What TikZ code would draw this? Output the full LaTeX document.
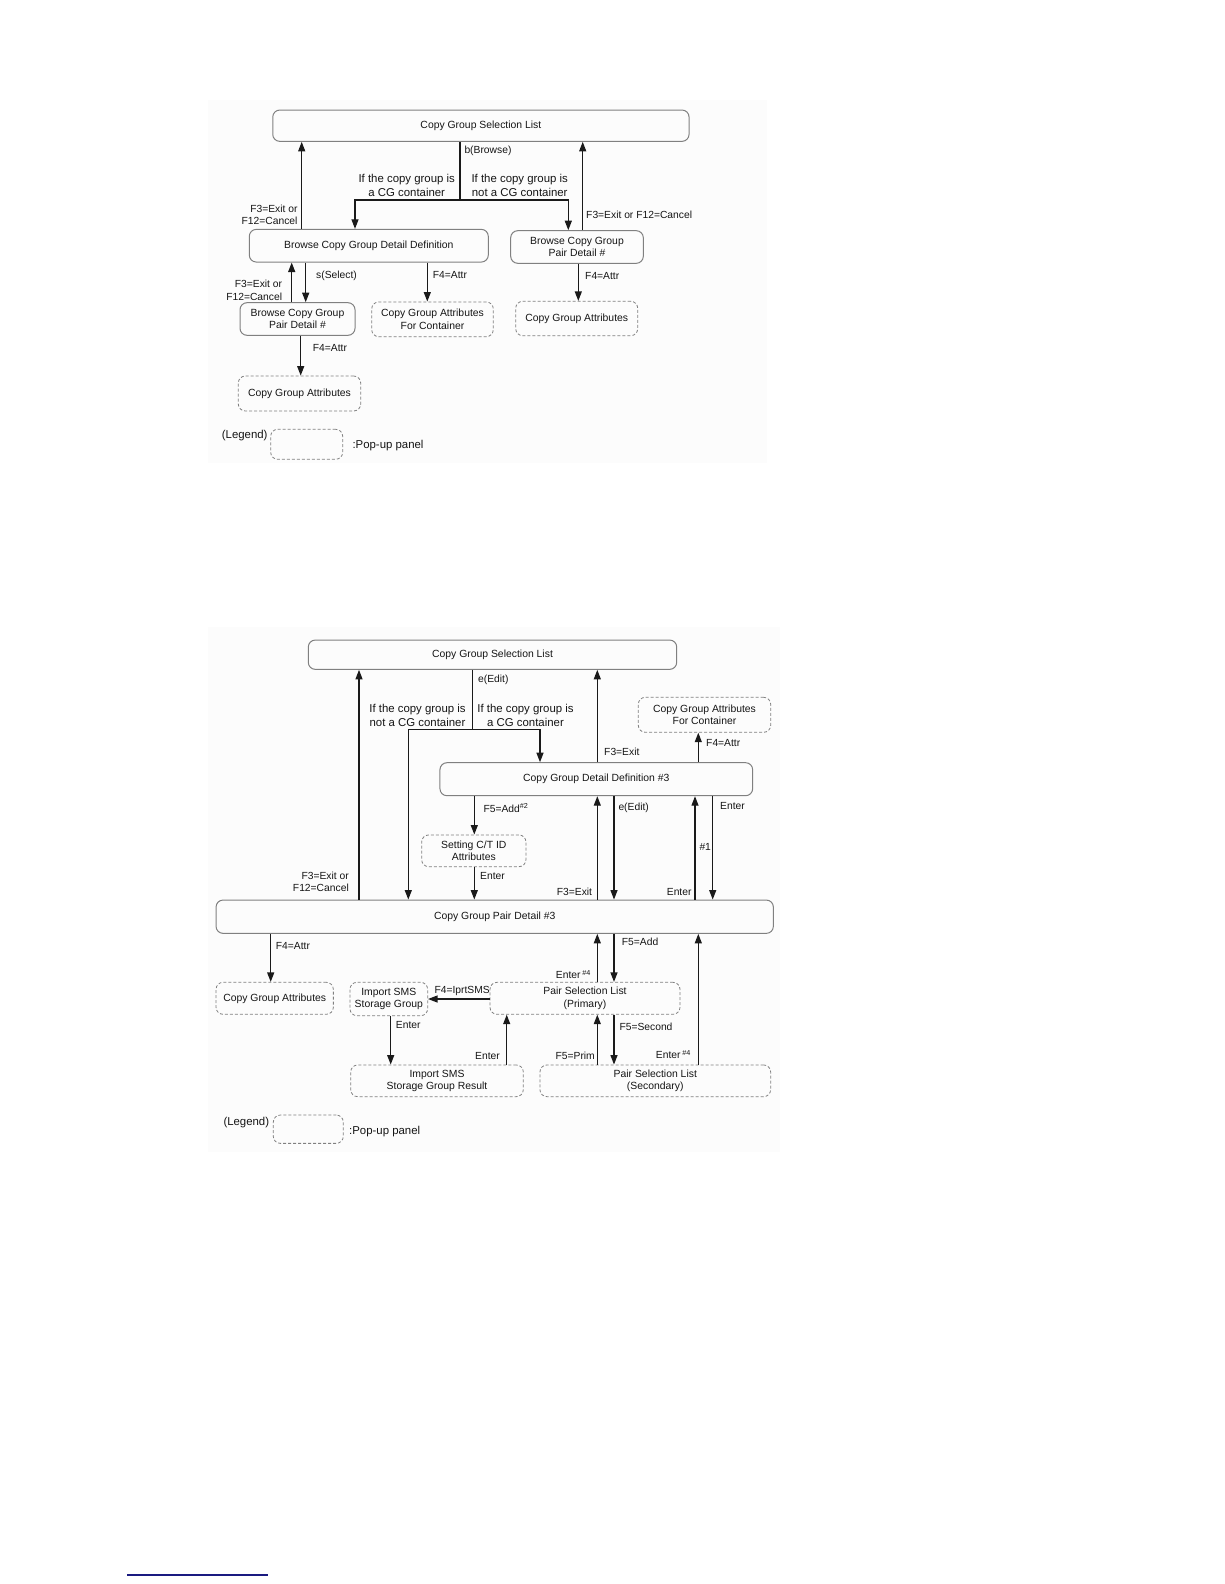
\documentclass[tikz,border=0pt]{standalone}
\usepackage{fontspec}
\setmainfont{Liberation Sans}
\usetikzlibrary{arrows.meta}
\definecolor{boxgray}{HTML}{808080}
\definecolor{arrcol}{HTML}{1A1A1A}
\definecolor{txt}{HTML}{151515}
\definecolor{bgfaint}{HTML}{FCFCFC}
\definecolor{navy}{HTML}{1A1A80}
\newcommand\bxfont{\fontsize{10.4}{12.7}\selectfont}
\newcommand\lbfont{\fontsize{10.3}{12.6}\selectfont}
\newcommand\bigfont{\fontsize{11.4}{13.7}\selectfont}
\begin{document}
\begin{tikzpicture}[x=1pt,y=-1pt,
  box/.style={draw=boxgray, line width=1pt, rounded corners=7pt, inner sep=0pt,
              align=center, font=\bxfont, text=txt},
  pop/.style={box, dash pattern=on 3pt off 2pt, line width=0.8pt},
  arr/.style={draw=arrcol, line width=1.2pt, -{Triangle[length=9.5pt,width=7pt]}},
  ln/.style={draw=arrcol, line width=1.2pt},
  lbl/.style={inner sep=0pt, font=\lbfont, text=txt},
  biglbl/.style={inner sep=0pt, font=\bigfont, text=txt, align=center}
]
\useasboundingbox (0,0) rectangle (1224,1584);
\fill[white] (0,0) rectangle (1224,1584);
\fill[bgfaint] (208,100) rectangle (767,463);
\fill[bgfaint] (208,627) rectangle (780,1152);

% ================= Diagram 1 =================
\node[box, minimum width=416.3pt, minimum height=31.3pt] (top1) at (480.9,125.7) {Copy Group Selection List};
\node[box, minimum width=239pt, minimum height=32.7pt] (bcgdd) at (368.8,245.7) {Browse Copy Group Detail Definition};
\node[box, minimum width=132.6pt, minimum height=32.6pt] (bcgpdR) at (577,247) {Browse Copy Group\\Pair Detail \#};
\node[box, minimum width=115pt, minimum height=32.6pt] (bcgpdL) at (297.5,319) {Browse Copy Group\\Pair Detail \#};
\node[pop, minimum width=121.6pt, minimum height=34.7pt] (cgafc1) at (432.5,319.3) {Copy Group Attributes\\For Container};
\node[pop, minimum width=122pt, minimum height=34.4pt] (cgaR) at (576.7,318.5) {Copy Group Attributes};
\node[pop, minimum width=122.4pt, minimum height=35pt] (cgaL) at (299.5,393.5) {Copy Group Attributes};
\node[pop, minimum width=72pt, minimum height=30pt] (leg1) at (306.7,444.3) {};

\coordinate (sp1) at (460,200);
\coordinate (a1) at (301.7,0);
\coordinate (a2) at (582.7,0);
\coordinate (a3) at (355,0);
\coordinate (a4) at (568.3,0);
\coordinate (a6) at (291.7,0);
\coordinate (a7) at (305.7,0);
\coordinate (a8) at (427.3,0);
\coordinate (a9) at (578.3,0);
\coordinate (a10) at (300.7,0);

\draw[ln] (top1.south -| sp1) -- (sp1);
\draw[arr] (sp1) -| (bcgdd.north -| a3);
\draw[arr] (sp1) -| (bcgpdR.north -| a4);
\draw[arr] (bcgdd.north -| a1) -- (top1.south -| a1);
\draw[arr] (bcgpdR.north -| a2) -- (top1.south -| a2);
\draw[arr] (bcgpdL.north -| a6) -- (bcgdd.south -| a6);
\draw[arr] (bcgdd.south -| a7) -- (bcgpdL.north -| a7);
\draw[arr] (bcgdd.south -| a8) -- (cgafc1.north -| a8);
\draw[arr] (bcgpdR.south -| a9) -- (cgaR.north -| a9);
\draw[arr] (bcgpdL.south -| a10) -- (cgaL.north -| a10);

\node[lbl, anchor=west] (l1) at (464.3,150.7) {b(Browse)};
\node[biglbl] (l2) at (406.7,185.2) {If the copy group is\\a CG container};
\node[biglbl] (l3) at (519.7,185.2) {If the copy group is\\not a CG container};
\node[lbl, anchor=east, align=right] (l4) at (297.7,215) {F3=Exit or\\F12=Cancel};
\node[lbl, anchor=west] (l5) at (586,215) {F3=Exit or F12=Cancel};
\node[lbl, anchor=west] (l6) at (316,275.7) {s(Select)};
\node[lbl, anchor=east, align=right] (l7) at (282.3,290.3) {F3=Exit or\\F12=Cancel};
\node[lbl, anchor=west] (l8) at (432.7,274.7) {F4=Attr};
\node[lbl, anchor=west] (l9) at (585,275.7) {F4=Attr};
\node[lbl, anchor=west] (l10) at (312.7,347.7) {F4=Attr};
\node[biglbl, anchor=west] (l11) at (221.7,436) {(Legend)};
\node[biglbl, anchor=west] (l12) at (352.3,445.7) {:Pop-up panel};

% ================= Diagram 2 =================
\node[box, minimum width=368.4pt, minimum height=29.3pt] (top2) at (492.5,654.7) {Copy Group Selection List};
\node[box, minimum width=312.7pt, minimum height=33pt] (cgdd) at (596.3,779.2) {Copy Group Detail Definition \#3};
\node[pop, minimum width=132.4pt, minimum height=35pt] (cgafc2) at (704.5,714.8) {Copy Group Attributes\\For Container};
\node[pop, minimum width=104.3pt, minimum height=31.7pt] (setting) at (473.8,850.8) {Setting C/T ID\\Attributes};
\node[box, minimum width=557.3pt, minimum height=33.3pt] (cgpd) at (494.7,916.7) {Copy Group Pair Detail \#3};
\node[pop, minimum width=117.3pt, minimum height=32pt] (cga2) at (274.7,998.3) {Copy Group Attributes};
\node[pop, minimum width=77.7pt, minimum height=33.4pt] (impsg) at (388.8,999) {Import SMS\\Storage Group};
\node[pop, minimum width=190pt, minimum height=32pt] (prim) at (585,998.3) {Pair Selection List\\(Primary)};
\node[pop, minimum width=172.6pt, minimum height=31.7pt] (impres) at (437,1080.8) {Import SMS\\Storage Group Result};
\node[pop, minimum width=230.7pt, minimum height=31.7pt] (second) at (655.3,1080.8) {Pair Selection List\\(Secondary)};
\node[pop, minimum width=70pt, minimum height=28.3pt] (leg2) at (308.3,1129.2) {};

\coordinate (sp2) at (472.7,729.3);
\coordinate (b1) at (359,0);
\coordinate (b3) at (408.3,0);
\coordinate (b4) at (540,0);
\coordinate (b5) at (597.3,0);
\coordinate (b6) at (698.3,0);
\coordinate (b7) at (474.3,0);
\coordinate (b8) at (614,0);
\coordinate (b9) at (695,0);
\coordinate (b10) at (712.7,0);
\coordinate (b11) at (270.7,0);
\coordinate (b12) at (390.7,0);
\coordinate (b13) at (506.7,0);
\coordinate (r1) at (0,999);

\draw[arr] (cgpd.north -| b1) -- (top2.south -| b1);
\draw[ln] (top2.south -| sp2) -- (sp2);
\draw[arr] (sp2) -| (cgpd.north -| b3);
\draw[arr] (sp2) -| (cgdd.north -| b4);
\draw[arr] (cgdd.north -| b5) -- (top2.south -| b5);
\draw[arr] (cgdd.north -| b6) -- (cgafc2.south -| b6);
\draw[arr] (cgdd.south -| b7) -- (setting.north -| b7);
\draw[arr] (setting.south -| b7) -- (cgpd.north -| b7);
\draw[arr] (cgpd.north -| b5) -- (cgdd.south -| b5);
\draw[arr] (cgdd.south -| b8) -- (cgpd.north -| b8);
\draw[arr] (cgpd.north -| b9) -- (cgdd.south -| b9);
\draw[arr] (cgdd.south -| b10) -- (cgpd.north -| b10);
\draw[arr] (cgpd.south -| b11) -- (cga2.north -| b11);
\draw[arr] (prim.north -| b5) -- (cgpd.south -| b5);
\draw[arr] (cgpd.south -| b8) -- (prim.north -| b8);
\draw[arr] (second.north -| b6) -- (cgpd.south -| b6);
\draw[arr] (prim.west |- r1) -- (impsg.east |- r1);
\draw[arr] (impsg.south -| b12) -- (impres.north -| b12);
\draw[arr] (impres.north -| b13) -- (prim.south -| b13);
\draw[arr] (second.north -| b5) -- (prim.south -| b5);
\draw[arr] (prim.south -| b8) -- (second.north -| b8);

\node[lbl, anchor=east, align=right] (m1) at (349,882) {F3=Exit or\\F12=Cancel};
\node[lbl, anchor=west] (m2) at (478,680) {e(Edit)};
\node[biglbl] (m3) at (417.5,715.7) {If the copy group is\\not a CG container};
\node[biglbl] (m4) at (525.5,715.7) {If the copy group is\\a CG container};
\node[lbl, anchor=west] (m5) at (604,752.3) {F3=Exit};
\node[lbl, anchor=west] (m6) at (706,743.3) {F4=Attr};
\node[lbl, anchor=base west] (m7) at (483.3,812) {F5=Add\textsuperscript{\#2}};
\node[lbl, anchor=west] (m8) at (480,875.7) {Enter};
\node[lbl, anchor=east] (m9) at (592.3,892.3) {F3=Exit};
\node[lbl, anchor=west] (m10) at (618.3,807.7) {e(Edit)};
\node[lbl, anchor=east] (m11) at (691.7,892.3) {Enter};
\node[lbl, anchor=west] (m12) at (699.3,846.7) {\#1};
\node[lbl, anchor=west] (m13) at (720,805.7) {Enter};
\node[lbl, anchor=west] (m14) at (275.7,945.7) {F4=Attr};
\node[lbl, anchor=west] (m15) at (621.7,941.7) {F5=Add};
\node[lbl, anchor=base east] (m16) at (591,978.7) {Enter\,\textsuperscript{\#4}};
\node[lbl, anchor=west] (m17) at (434.3,990.7) {F4=IprtSMS};
\node[lbl, anchor=west] (m18) at (395.7,1025) {Enter};
\node[lbl, anchor=east] (m19) at (500,1055.7) {Enter};
\node[lbl, anchor=east] (m20) at (595,1056) {F5=Prim};
\node[lbl, anchor=west] (m21) at (619.3,1026.7) {F5=Second};
\node[lbl, anchor=base east] (m22) at (691,1058.7) {Enter\,\textsuperscript{\#4}};
\node[biglbl, anchor=west] (m23) at (223.3,1122.3) {(Legend)};
\node[biglbl, anchor=west] (m24) at (349,1131.7) {:Pop-up panel};

% footnote rule
\draw[navy, line width=1.5pt] (127,1575) -- (268,1575);
\end{tikzpicture}
\end{document}
